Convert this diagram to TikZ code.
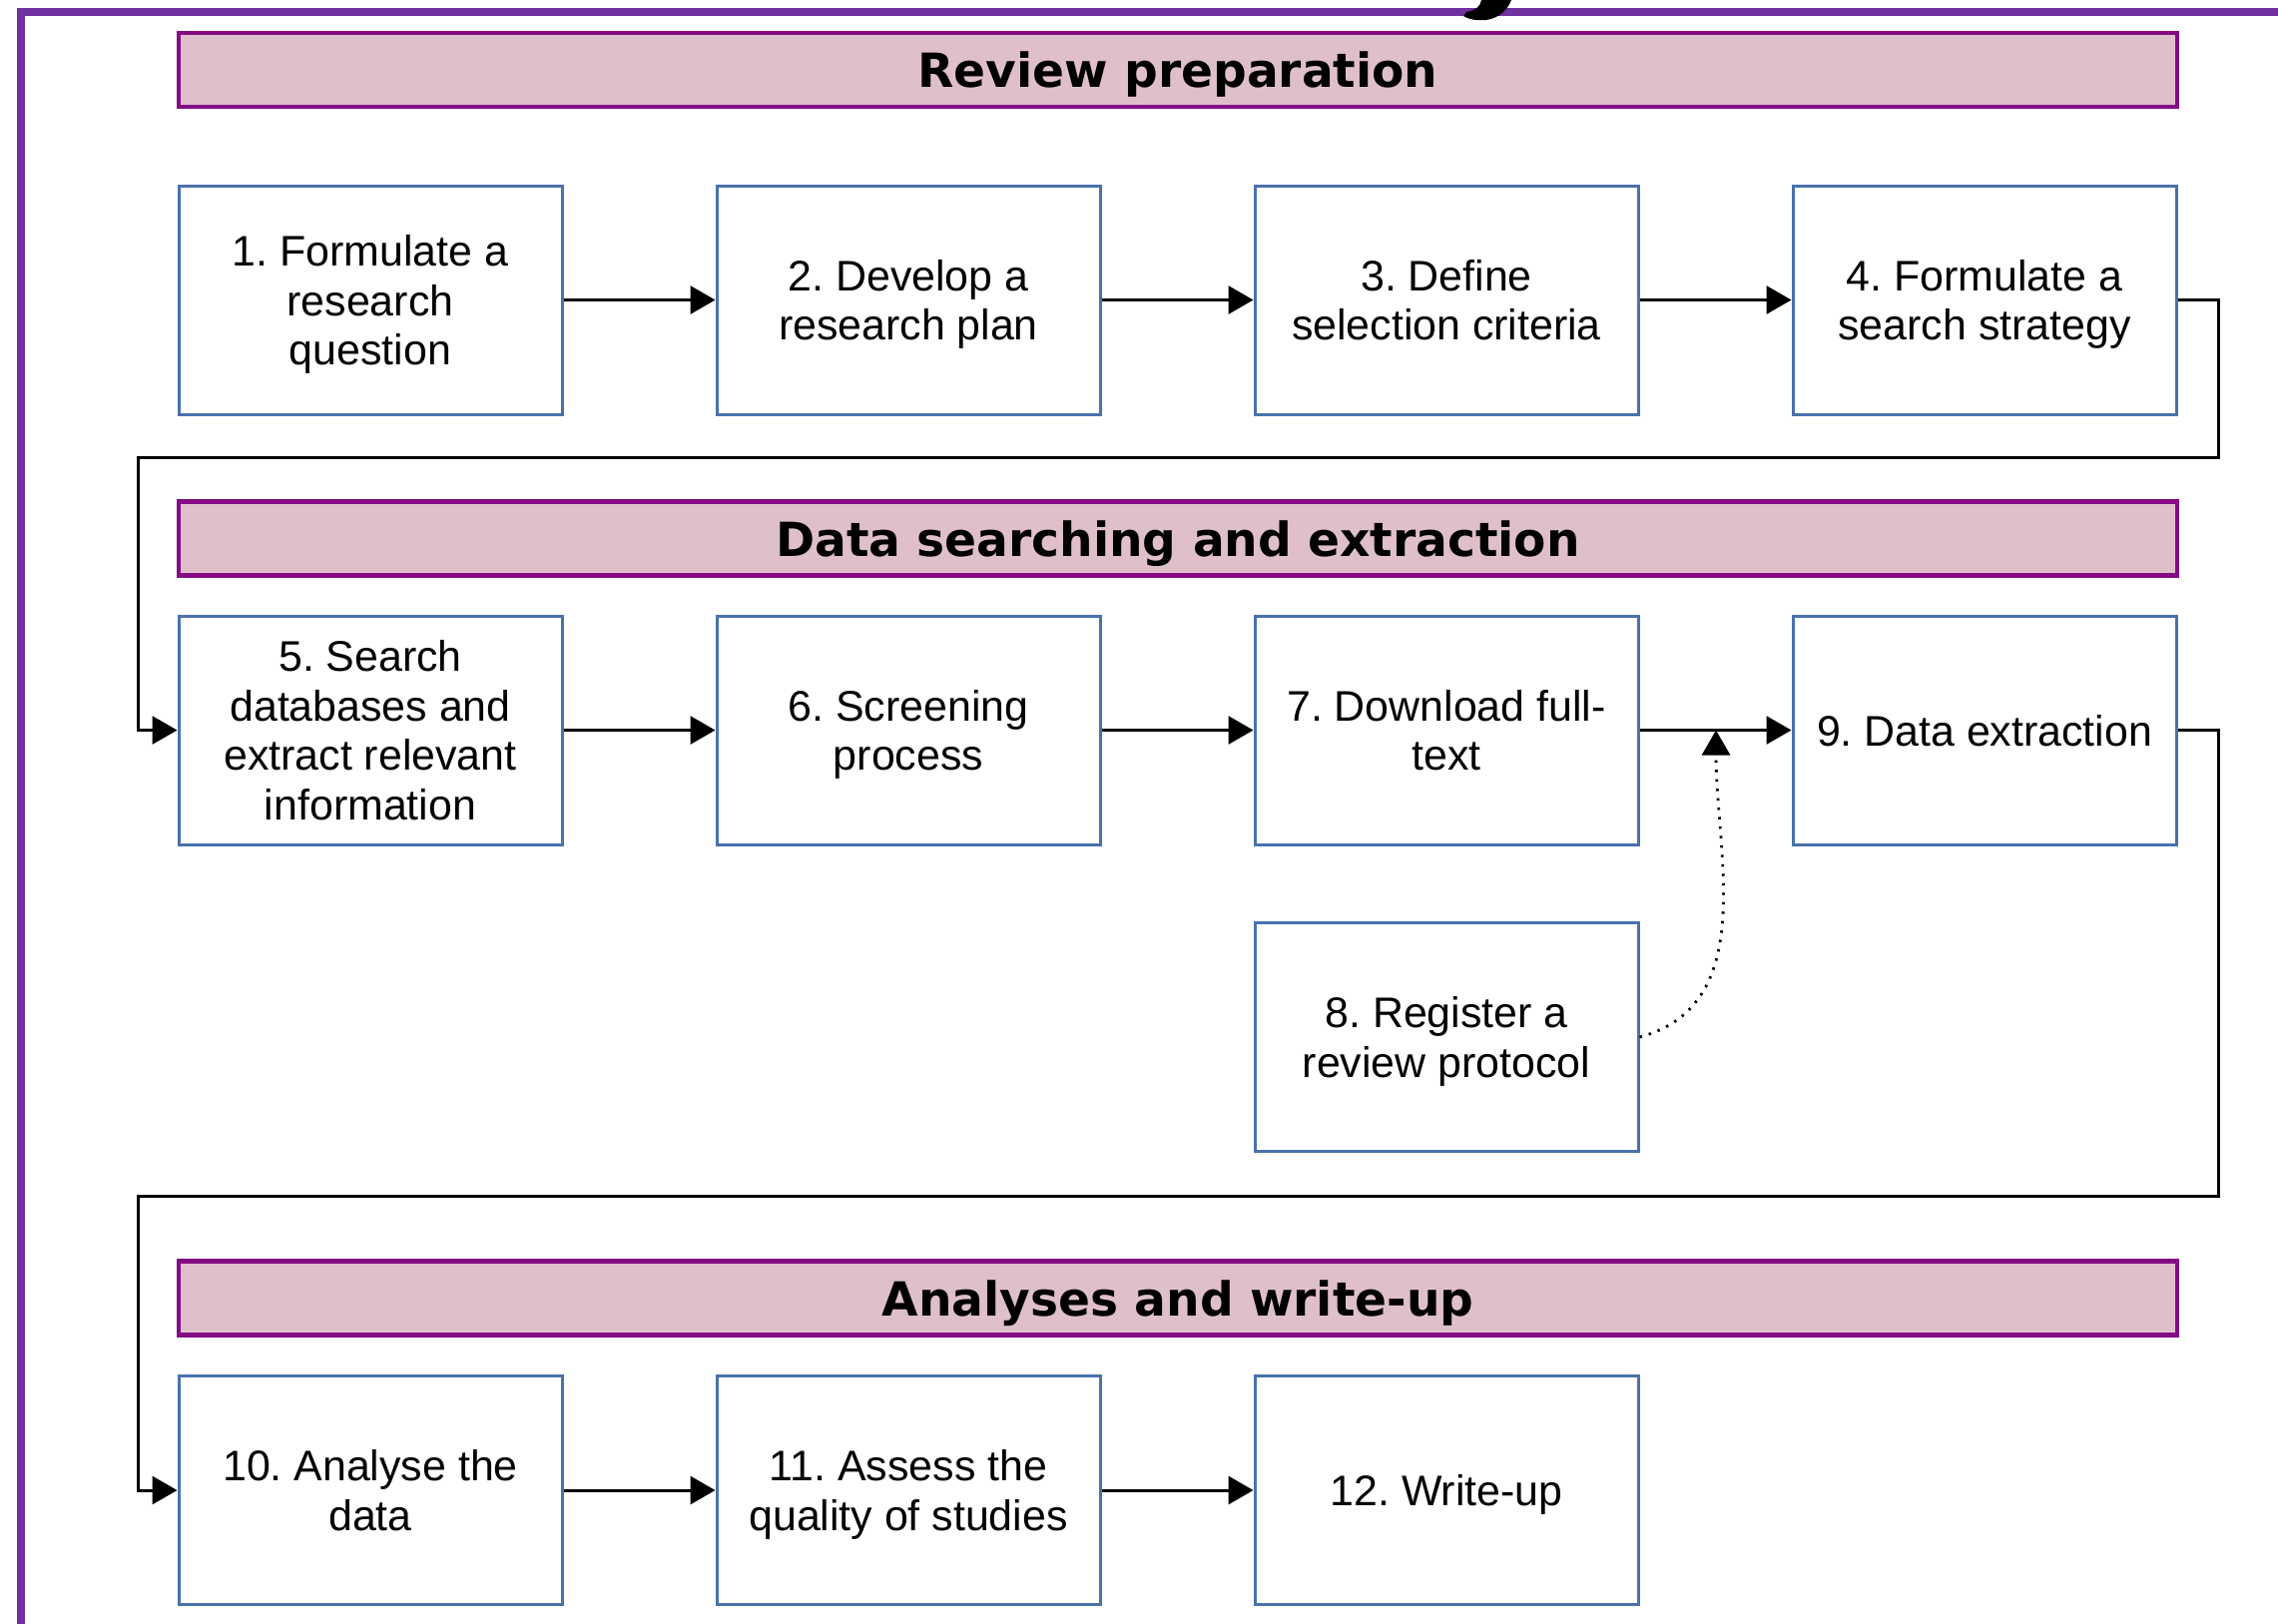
\documentclass[tikz,border=0pt]{standalone}
\usepackage{fontspec}
\setmainfont{Liberation Sans}
\newfontfamily\headfont{DejaVu Sans}
\usetikzlibrary{arrows.meta}
\frenchspacing
\definecolor{framepurple}{HTML}{7030A0}
\definecolor{headfill}{HTML}{DFC0CA}
\definecolor{headline}{HTML}{850C85}
\definecolor{boxblue}{HTML}{4A72AC}
\tikzset{>={Triangle[length=2.5mm,width=2.8mm]}}
\tikzset{
  stepbox/.style={draw=boxblue, line width=0.3mm, minimum width=38.4mm, minimum height=22.9mm,
    align=center, inner sep=0pt, text depth=0pt, font=\fontsize{12.2}{14.1}\selectfont},
  headbox/.style={draw=headline, fill=headfill, line width=0.45mm, minimum width=200.2mm,
    minimum height=7.4mm, inner sep=0pt, text depth=0pt,
    font=\headfont\bfseries\fontsize{13.4}{15}\selectfont},
  link/.style={->, line width=0.3mm}
}

\begin{document}
\begin{tikzpicture}[x=0.1mm, y=-0.1mm]
\useasboundingbox (0,0) rectangle (2282,1626);
\clip (0,0) rectangle (2282,1626);
% outer frame
\draw[framepurple, line width=0.8mm] (20.5,11.5) rectangle (2400,1800);
\fill (1484,0) -- (1514,0) .. controls (1510,10) and (1502,18) .. (1489,20)
  .. controls (1479,21) and (1470,19) .. (1466,16) -- (1469,12)
  .. controls (1477,11) and (1483,7) .. (1484,0) -- cycle;
% headers
\node[headbox] (h1) at (1180,70) {Review preparation};
\node[headbox] (h2) at (1180,539.5) {Data searching and extraction};
\node[headbox] (h3) at (1180,1300.5) {Analyses and write-up};
% steps
\node[stepbox] (b1) at (371,300.5) {1. Formulate a\\research\\question};
\node[stepbox] (b2) at (910,300.5) {2. Develop a\\research plan};
\node[stepbox] (b3) at (1449,300.5) {3. Define\\selection criteria};
\node[stepbox] (b4) at (1988,300.5) {4. Formulate a\\search strategy};
\node[stepbox] (b5) at (371,731.5) {5. Search\\databases and\\extract relevant\\information};
\node[stepbox] (b6) at (910,731.5) {6. Screening\\process};
\node[stepbox] (b7) at (1449,731.5) {7. Download full-\\text};
\node[stepbox] (b9) at (1988,731.5) {9. Data extraction};
\node[stepbox] (b8) at (1449,1039) {8. Register a\\review protocol};
\node[stepbox] (b10) at (371,1493) {10. Analyse the\\data};
\node[stepbox] (b11) at (910,1493) {11. Assess the\\quality of studies};
\node[stepbox] (b12) at (1449,1493) {12. Write-up};
% corners of the return lines
\coordinate (r1) at (2222,458);
\coordinate (l1) at (138,458);
\coordinate (r2) at (2222,1198);
\coordinate (l2) at (138,1198);
\coordinate (join) at (1719,731.5);
% connectors
\draw[link] (b1) -- (b2);
\draw[link] (b2) -- (b3);
\draw[link] (b3) -- (b4);
\draw[link] (b4.east) -| (r1) -- (l1) |- (b5.west);
\draw[link] (b5) -- (b6);
\draw[link] (b6) -- (b7);
\draw[link] (b7) -- (b9);
\draw[link] (b9.east) -| (r2) -- (l2) |- (b10.west);
\draw[link] (b10) -- (b11);
\draw[link] (b11) -- (b12);
\draw[->, line width=0.28mm, dash pattern=on 0.7pt off 2pt] (b8.east) to[out=15, in=-90] (join);
\end{tikzpicture}
\end{document}
